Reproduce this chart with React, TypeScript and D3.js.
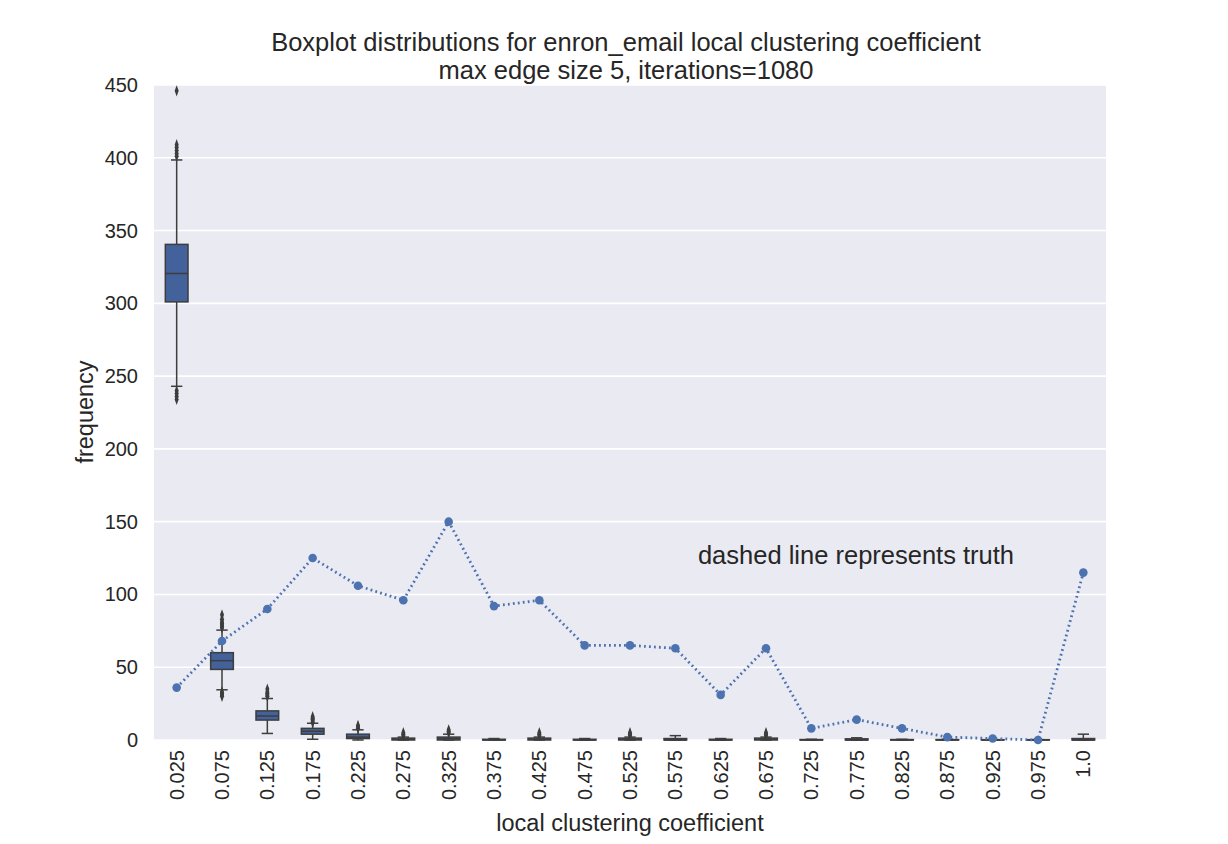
import React from "react";
import * as d3 from "d3";

const categories = ["0.025","0.075","0.125","0.175","0.225","0.275","0.325","0.375","0.425","0.475","0.525","0.575","0.625","0.675","0.725","0.775","0.825","0.875","0.925","0.975","1.0"];
const q1s =       [301, 48.5, 13.7, 4, 1, 0, 0, 0, 0, 0, 0, 0, 0, 0, 0, 0, 0, 0, 0, 0, 0];
const medians =   [320.5, 54.5, 16.5, 6, 2, 0.5, 1, 0, 0.5, 0, 0.5, 0, 0, 0.5, 0, 0, 0, 0, 0, 0, 0];
const q3s =       [340.5, 60, 20, 8, 4, 1.3, 2, 0.5, 1.3, 0.5, 1.3, 1, 0.5, 1.3, 0.3, 0.8, 0.3, 0.3, 0.2, 0.2, 1];
const whiskLo =   [243, 34.5, 4.5, 0.5, 0, 0, 0, 0, 0, 0, 0, 0, 0, 0, 0, 0, 0, 0, 0, 0, 0];
const whiskHi =   [398.5, 75.5, 28.5, 11.5, 7, 2, 4, 1, 2, 1, 2, 3, 1, 2, 0.5, 1.5, 0.5, 0.5, 0.3, 0.3, 4];
const outliers: number[][] = [
  [446, 409, 407, 405, 403, 401, 240, 238, 236, 234],
  [77, 78, 79, 80, 81, 83, 86, 33, 32, 31, 30],
  [30, 31, 32, 33, 35],
  [12, 13, 14, 15, 16],
  [8, 9, 10],
  [3, 4, 5],
  [5, 6, 7],
  [],
  [3, 4, 5],
  [],
  [3, 4, 5],
  [],
  [],
  [3, 4, 5],
  [],
  [],
  [],
  [],
  [],
  [],
  [],
];
const truth = [36, 68, 90, 125, 106, 96, 150, 92, 96, 65, 65, 63, 31, 63, 8, 14, 8, 2, 1, 0, 115];
const yTicks = [0, 50, 100, 150, 200, 250, 300, 350, 400, 450];

const W = 1228, H = 844;
const left = 154, right = 1106, top = 85, bottom = 740;
const FONT = "'Liberation Sans', Arial, sans-serif";
const BLUE = "#4c72b0";
const BOXFILL = "#43629b";
const EDGE = "#3d3d3d";

export default function App() {
  const x = d3.scaleBand<string>().domain(categories).range([left, right]).paddingInner(0).paddingOuter(0);
  const y = d3.scaleLinear().domain([0, 450]).range([bottom, top]);
  const bw = x.bandwidth();
  const boxW = bw * 0.5;
  const capW = boxW * 0.5;
  const cx = (c: string) => (x(c) as number) + bw / 2;
  const line = d3.line<number>().x((_, i) => cx(categories[i])).y((d) => y(d));
  const diamond = d3.symbol().type(d3.symbolDiamond).size(22)();

  return (
    <svg width={W} height={H} style={{ position: "absolute", left: 0, top: 0, background: "#fff" }} fontFamily={FONT}>
      <rect x={left} y={top} width={right - left} height={bottom - top} fill="#EAEAF2" />
      {yTicks.map((t) => (
        <g key={t}>
          <line x1={left} x2={right} y1={y(t)} y2={y(t)} stroke="#fff" strokeWidth={1.6} />
          <text x={138} y={y(t)} dy="0.35em" textAnchor="end" fontSize={20} fill="#262626">{t}</text>
        </g>
      ))}
      {categories.map((c, i) => {
        const xc = cx(c);
        return (
          <g key={c}>
            <line x1={xc} x2={xc} y1={y(q3s[i])} y2={y(whiskHi[i])} stroke={EDGE} strokeWidth={1.5} />
            <line x1={xc} x2={xc} y1={y(q1s[i])} y2={y(whiskLo[i])} stroke={EDGE} strokeWidth={1.5} />
            <line x1={xc - capW / 2} x2={xc + capW / 2} y1={y(whiskHi[i])} y2={y(whiskHi[i])} stroke={EDGE} strokeWidth={1.5} />
            <line x1={xc - capW / 2} x2={xc + capW / 2} y1={y(whiskLo[i])} y2={y(whiskLo[i])} stroke={EDGE} strokeWidth={1.5} />
            <rect x={xc - boxW / 2} y={y(q3s[i])} width={boxW} height={Math.max(0, y(q1s[i]) - y(q3s[i]))} fill={BOXFILL} stroke={EDGE} strokeWidth={1.5} />
            <line x1={xc - boxW / 2} x2={xc + boxW / 2} y1={y(medians[i])} y2={y(medians[i])} stroke={EDGE} strokeWidth={1.5} />
            {outliers[i].map((o, j) => (
              <path key={j} d={diamond as string} transform={`translate(${xc},${y(o)}) scale(0.8,1.3)`} fill={EDGE} />
            ))}
            <text transform={`translate(${xc},750) rotate(-90)`} dy="0.35em" textAnchor="end" fontSize={20} fill="#262626">{c}</text>
          </g>
        );
      })}
      <path d={line(truth) as string} fill="none" stroke={BLUE} strokeWidth={2.8} strokeDasharray="1.8,3.2" />
      {truth.map((v, i) => (
        <circle key={i} cx={cx(categories[i])} cy={y(v)} r={4.3} fill={BLUE} />
      ))}
      <text x={856} y={555} dy="0.35em" textAnchor="middle" fontSize={25.5} fill="#262626">dashed line represents truth</text>
      <text x={626} y={42} dy="0.35em" textAnchor="middle" fontSize={25.5} fill="#262626">Boxplot distributions for enron_email local clustering coefficient</text>
      <text x={626} y={70} dy="0.35em" textAnchor="middle" fontSize={25.5} fill="#262626">max edge size 5, iterations=1080</text>
      <text x={630} y={823} dy="0.35em" textAnchor="middle" fontSize={23.5} fill="#262626">local clustering coefficient</text>
      <text transform={`translate(85,412) rotate(-90)`} dy="0.35em" textAnchor="middle" fontSize={23.5} fill="#262626">frequency</text>
    </svg>
  );
}
